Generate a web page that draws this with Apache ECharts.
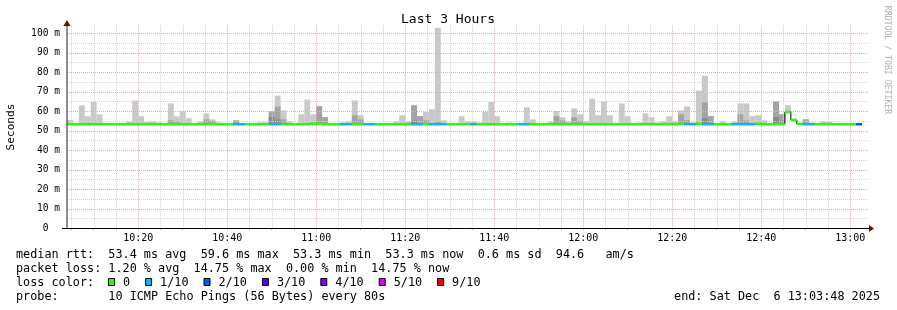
<!DOCTYPE html>
<html><head><meta charset="utf-8">
<script src="https://cdn.jsdelivr.net/npm/echarts@6/dist/echarts.min.js"></script>
<style>html,body{margin:0;padding:0;background:#fff}#c{width:897px;height:310px}</style>
</head><body><div id="c"></div>
<script>
// time axis in minutes after 10:00
const startMin = 4.0;
const endMin = 184.0;
const stepMin = 80 / 60;           // one probe round every 80 s
const xTickMinutes = [5,10,15,20,25,30,35,40,45,50,55,60,65,70,75,80,85,90,95,100,105,110,115,120,125,130,135,140,145,150,155,160,165,170,175,180];
const xLabelMinutes = [20,40,60,80,100,120,140,160,180];
const yGridValues = [5,10,15,20,25,30,35,40,45,50,55,60,65,70,75,80,85,90,95,100];

// ms, one entry per 80 s slot (135 slots); null = no smoke
const smokeMax = [
 55.5,null,63.0,57.4,64.7,58.4,null,null,null,null,
 54.8,65.5,57.4,54.5,54.8,54.2,null,64.0,57.4,60.0,
 56.4,null,54.8,58.9,55.8,54.3,null,null,55.3,null,
 null,null,54.3,54.3,60.0,68.0,60.4,54.8,null,58.4,
 66.0,58.4,62.5,56.9,null,null,54.2,54.7,65.5,57.9,
 null,null,null,null,null,54.7,57.9,54.8,63.0,57.4,
 59.6,61.0,102.8,55.3,null,null,57.4,54.7,54.7,54.2,
 59.6,64.7,57.4,null,54.2,null,null,62.0,55.8,null,
 null,54.7,60.1,56.9,55.0,61.4,58.4,55.0,66.5,57.9,
 65.0,57.9,null,64.0,57.4,null,54.2,58.9,56.9,54.2,
 54.8,57.4,54.8,60.4,62.5,54.2,70.6,78.2,57.4,null,
 54.8,null,54.8,64.0,64.0,57.4,57.9,55.3,null,65.0,
 58.4,63.0,null,null,55.8,54.2,null,54.7,54.7,null,
 null,null,null,null,null
];
const smokeMid = [
 null,null,null,null,null,null,null,null,null,null,
 null,null,null,null,null,null,null,55.3,54.5,null,
 null,null,null,55.8,55.0,null,null,null,55.3,null,
 null,null,null,null,60.0,62.3,55.8,null,null,null,
 null,null,62.5,56.9,null,null,null,null,57.9,55.8,
 null,null,null,null,null,null,null,null,63.0,57.4,
 55.3,null,54.5,null,null,null,null,null,null,null,
 null,null,null,null,null,null,null,null,null,null,
 null,null,57.4,55.3,null,56.9,55.0,null,null,null,
 null,null,null,null,null,null,null,null,null,null,
 null,null,null,58.4,55.3,null,null,64.5,57.4,null,
 null,null,null,58.4,55.3,null,null,null,null,65.0,
 58.4,null,null,null,55.8,null,null,null,null,null,
 null,null,null,null,null
];
const smokeDark = [
 null,null,null,null,null,null,null,null,null,null,
 null,null,null,null,null,null,null,null,null,null,
 null,null,null,null,null,null,null,null,null,null,
 null,null,null,null,57.0,55.8,null,null,null,null,
 null,null,null,null,null,null,null,null,null,null,
 null,null,null,null,null,null,null,null,55.0,null,
 null,null,null,null,null,null,null,null,null,null,
 null,null,null,null,null,null,null,null,null,null,
 null,null,null,null,null,null,null,null,null,null,
 null,null,null,null,null,null,null,null,null,null,
 null,null,null,null,null,null,null,56.4,null,null,
 null,null,null,null,null,null,null,null,null,57.0,
 null,null,null,null,null,null,null,null,null,null,
 null,null,null,null,null
];
const median = [
 53.3,53.3,53.3,53.3,53.3,53.3,53.3,53.3,53.3,53.3,
 53.3,53.3,53.3,53.3,53.3,53.3,53.3,53.3,53.3,53.3,
 53.3,53.3,53.3,53.3,53.3,53.3,53.3,53.3,53.3,53.3,
 53.3,53.3,53.3,53.3,53.3,53.3,53.3,53.3,53.3,53.3,
 53.3,53.6,53.6,53.3,53.3,53.3,53.3,53.3,53.3,53.3,
 53.3,53.3,53.3,53.3,53.3,53.3,53.3,53.3,53.3,53.3,
 53.3,53.3,53.3,53.3,53.3,53.3,53.3,53.3,53.3,53.3,
 53.3,53.3,53.3,53.3,53.3,53.3,53.3,53.3,53.3,53.3,
 53.3,53.3,53.3,53.3,53.3,53.3,53.3,53.3,53.3,53.3,
 53.3,53.3,53.3,53.3,53.3,53.3,53.3,53.3,53.3,53.3,
 53.3,53.3,53.3,53.6,53.3,53.3,53.6,53.3,53.3,53.3,
 53.3,53.3,53.3,53.3,53.3,53.3,53.6,53.3,53.3,53.3,
 53.3,59.6,55.5,53.5,53.3,53.3,53.3,53.3,53.3,53.3,
 53.3,53.3,53.3,53.3,null
];
// lost pings out of 10 per slot
const loss = [
 0,0,0,0,0,0,0,0,0,0,
 0,0,0,0,0,0,0,0,0,0,
 0,0,0,0,0,0,0,0,1,1,
 0,0,0,0,1,1,0,0,0,0,
 0,0,0,0,0,0,1,1,0,0,
 1,1,0,0,0,0,0,0,1,1,
 0,1,1,1,0,0,0,0,1,0,
 0,0,0,0,0,0,1,1,0,0,
 0,0,0,0,0,0,0,0,0,0,
 0,0,0,0,0,0,0,0,0,0,
 0,0,0,0,1,1,0,1,1,0,
 0,0,1,1,1,1,0,0,0,0,
 0,0,0,0,1,1,0,0,0,0,
 0,0,0,2,null
];
const lossColors = ['#26ff00','#00b8ff','#0059ff','#5e00ff','#7e00ff','#dd00ff','#ff0000'];
const lossLabels = ['0','1/10','2/10','3/10','4/10','5/10','9/10'];

const titleText = 'Last 3 Hours';
const yAxisTitle = 'Seconds';
const creditText = 'RRDTOOL / TOBI OETIKER';
const statsRtt = 'median rtt:  53.4 ms avg  59.6 ms max  53.3 ms min  53.3 ms now  0.6 ms sd  94.6   am/s';
const statsLoss = 'packet loss: 1.20 % avg  14.75 % max  0.00 % min  14.75 % now';
const lossTitle = 'loss color:';
const probeText = 'probe:       10 ICMP Echo Pings (56 Bytes) every 80s';
const endText = 'end: Sat Dec  6 13:03:48 2025';

const MONO = '"DejaVu Sans Mono", monospace';
const LEG_FONT = '11.8px ' + MONO;
const CH = 7.1;
const slotT = k => startMin + k * stepMin;

function bandSeries(tops, color, z) {
  const data = [];
  tops.forEach((v, k) => {
    if (v != null && median[k] != null && v > median[k]) data.push([slotT(k), slotT(k + 1), median[k], v]);
  });
  return {
    type: 'custom', z, silent: true, data, encode: { x: [0, 1], y: [2, 3] },
    renderItem(params, api) {
      const a = api.coord([api.value(0), api.value(3)]);
      const b = api.coord([api.value(1), api.value(2)]);
      return { type: 'rect', shape: { x: a[0], y: a[1], width: b[0] - a[0], height: b[1] - a[1] }, style: { fill: color } };
    }
  };
}

const medLine = [];
median.forEach((m, k) => { if (m != null) medLine.push([slotT(k), m]); });
for (let k = median.length - 1; k >= 0; k--) { if (median[k] != null) { medLine.push([slotT(k + 1), median[k]]); break; } }

const medRects = [];
median.forEach((m, k) => { if (m != null && loss[k] != null) medRects.push([slotT(k), slotT(k + 1), m, loss[k]]); });

// grid lines: [value, isMajor, orientation(0 = vertical, 1 = horizontal)]
const MAJOR = '#f4a4a4', MINOR = '#d2d2d2';
const gridData = [];
xTickMinutes.forEach(v => gridData.push([v, v % 20 === 0 ? 1 : 0, 0]));
yGridValues.forEach(v => gridData.push([v, v % 10 === 0 ? 1 : 0, 1]));

const gridSeries = {
  type: 'custom', z: 3, silent: true, data: gridData,
  encode: { x: 0, y: 0 },
  renderItem(params, api) {
    const cs = params.coordSys;
    const v = api.value(0), major = api.value(1), horiz = api.value(2);
    const style = { stroke: major ? MAJOR : MINOR, lineWidth: 1, lineDash: [1, 1] };
    if (horiz) {
      const y = Math.round(api.coord([startMin, v])[1]) + 0.5;
      return { type: 'line', shape: { x1: cs.x, y1: y, x2: cs.x + cs.width, y2: y }, style };
    }
    const x = Math.round(api.coord([v, 0])[0]) + 0.5;
    return { type: 'line', shape: { x1: x, y1: cs.y, x2: x, y2: cs.y + cs.height }, style };
  }
};

// legend of loss colours
const legendEls = [];
let lx = 108;
lossLabels.forEach((lab, i) => {
  legendEls.push({ type: 'rect', shape: { x: lx + 0.5, y: 278.5, width: 6, height: 7 }, style: { fill: lossColors[i], stroke: '#000', lineWidth: 1 } });
  legendEls.push({ type: 'text', style: { text: lab, x: lx + 15, y: 282.5, font: LEG_FONT, fill: '#000', verticalAlign: 'middle' } });
  lx += 15 + lab.length * CH + 15;
});

const pad = n => (n < 10 ? '0' : '') + n;

const chart = echarts.init(document.getElementById('c'), null, { renderer: 'canvas' });
chart.setOption({
  animation: false,
  backgroundColor: '#fff',
  grid: { left: 67, right: 29, top: 25.3, bottom: 82 },
  xAxis: {
    type: 'value', min: startMin, max: endMin,
    axisLine: { show: false },
    splitLine: { show: false },
    axisTick: { show: true, customValues: xTickMinutes, length: 2, lineStyle: { color: '#aaa' } },
    axisLabel: {
      customValues: xLabelMinutes, margin: 5, color: '#000', fontFamily: MONO, fontSize: 10,
      formatter: v => (10 + Math.floor(v / 60)) + ':' + pad(Math.round(v % 60))
    }
  },
  yAxis: {
    type: 'value', min: 0, max: 104.1, interval: 10,
    axisLine: { show: false }, axisTick: { show: false }, splitLine: { show: false },
    axisLabel: {
      margin: 7, color: '#000', fontFamily: MONO, fontSize: 9.6, showMaxLabel: false,
      formatter: v => (v === 0 ? '0  ' : v + ' m')
    }
  },
  series: [
    bandSeries(smokeMax, '#c9c9c9', 2),
    bandSeries(smokeMid, '#a3a3a3', 2),
    bandSeries(smokeDark, '#8a8a8a', 2),
    gridSeries,
    {
      type: 'line', step: 'end', data: medLine, symbol: 'none', z: 4, silent: true,
      lineStyle: { color: '#000', width: 1 }
    },
    {
      type: 'custom', z: 5, silent: true, data: medRects, encode: { x: [0, 1], y: 2 },
      renderItem(params, api) {
        const a = api.coord([api.value(0), api.value(2) + 0.65]);
        const b = api.coord([api.value(1), api.value(2) - 0.65]);
        return { type: 'rect', shape: { x: a[0], y: a[1], width: b[0] - a[0], height: b[1] - a[1] }, style: { fill: lossColors[api.value(3)] } };
      }
    }
  ],
  graphic: [
    { type: 'line', z: 10, shape: { x1: 67, y1: 228, x2: 67, y2: 25 }, style: { stroke: '#222', lineWidth: 1 } },
    { type: 'line', z: 10, shape: { x1: 62, y1: 228.5, x2: 869, y2: 228.5 }, style: { stroke: '#000', lineWidth: 1 } },
    { type: 'polygon', z: 10, shape: { points: [[63.5, 26], [70.5, 26], [67, 20]] }, style: { fill: '#8b0000' } },
    { type: 'polygon', z: 10, shape: { points: [[869, 225], [874, 228.5], [869, 232]] }, style: { fill: '#8b0000' } },
    { type: 'text', style: { text: titleText, x: 448, y: 20, font: '13px ' + MONO, fill: '#000', align: 'center', verticalAlign: 'middle' } },
    { type: 'text', x: 11, y: 127, rotation: Math.PI / 2, style: { text: yAxisTitle, x: 0, y: 0, font: '11.1px ' + MONO, fill: '#000', align: 'center', verticalAlign: 'middle' } },
    { type: 'text', x: 887, y: 60, rotation: -Math.PI / 2, style: { text: creditText, x: 0, y: 0, font: '8.2px ' + MONO, fill: '#b0b0b0', align: 'center', verticalAlign: 'middle' } },
    { type: 'text', style: { text: statsRtt, x: 16, y: 255, font: LEG_FONT, fill: '#000', verticalAlign: 'middle' } },
    { type: 'text', style: { text: statsLoss, x: 16, y: 268.7, font: LEG_FONT, fill: '#000', verticalAlign: 'middle' } },
    { type: 'text', style: { text: lossTitle, x: 16, y: 282.5, font: LEG_FONT, fill: '#000', verticalAlign: 'middle' } },
    { type: 'text', style: { text: probeText, x: 16, y: 296.5, font: LEG_FONT, fill: '#000', verticalAlign: 'middle' } },
    { type: 'text', style: { text: endText, x: 880, y: 296.5, font: LEG_FONT, fill: '#000', align: 'right', verticalAlign: 'middle' } }
  ].concat(legendEls)
});
</script></body></html>
